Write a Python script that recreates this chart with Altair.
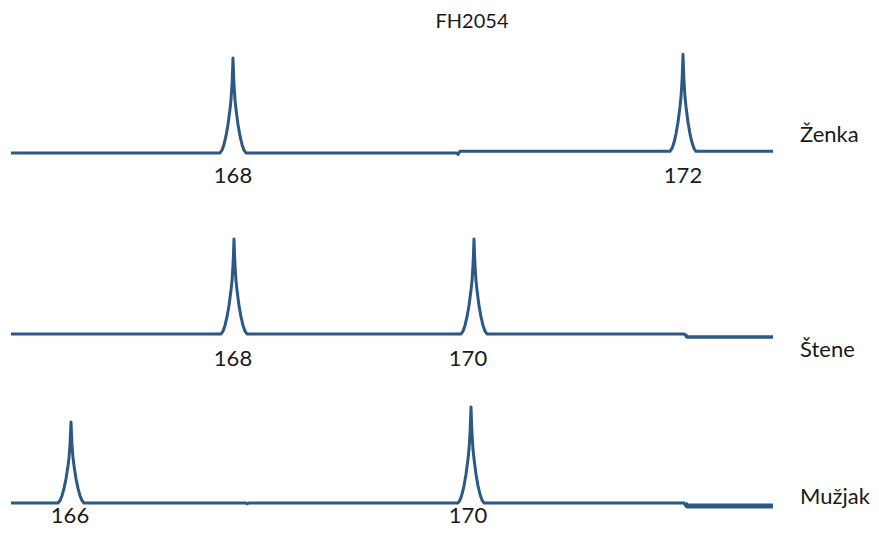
import altair as alt
import numpy as np
import pandas as pd

# ---- data ----
title_text = "FH2054"

lanes = ["Ženka", "Štene", "Mužjak"]
lane_base = [375, 194, 25]          # baseline level of each trace (vertical lane position)
label_drop = [30, 32, 20]           # how far below the trace baseline the allele labels' text baseline sits
name_y = [393, 178, 31]             # vertical position of the lane names
name_x = 792

# baseline anchor points (scan position, signal) per lane
base_x = {
    "Ženka": [3, 449, 450, 452, 765],
    "Štene": [3, 677, 679, 765],
    "Mužjak": [3, 238, 239, 241, 677, 679, 765],
}
base_s = {
    "Ženka": [0, 0, -1.5, 1.7, 1.7],
    "Štene": [0, 0, -3, -3],
    "Mužjak": [0, 0, -1, 0, 0, -3, -3],
}
tail_start = {"Štene": 677, "Mužjak": 677}
tail_width = {"Štene": 3.6, "Mužjak": 4.8}
main_width = 3.0

# peaks
peak_lane = ["Ženka", "Ženka", "Štene", "Štene", "Mužjak", "Mužjak"]
peak_size = ["168", "172", "168", "170", "166", "170"]
peak_x = [225, 675, 226, 466, 63, 463]
peak_h = [95, 97, 95, 95, 81, 96]
label_x = [225, 675, 225, 460, 62, 460]

# peak profile (offset in scan units, fraction of peak height)
prof_off = [-13, -11, -9, -7, -5, -4, -3, -2, -1, -0.5, 0, 0.5, 1, 2, 3, 4, 5, 7, 9, 11, 13]
prof_rel = [0, 0.03, 0.09, 0.18, 0.3, 0.38, 0.46, 0.56, 0.72, 0.85, 1.0, 0.85, 0.72, 0.56, 0.46, 0.38, 0.3, 0.18, 0.09, 0.03, 0]

LINE = "#2c5883"
FONT = "Lato"

# ---- build trace table ----
rows = []
for li, lane in enumerate(lanes):
    bx = np.array(base_x[lane], dtype=float)
    bs = np.array(base_s[lane], dtype=float)
    pts = {}
    lane_peaks = [(peak_x[i], peak_h[i]) for i in range(len(peak_lane)) if peak_lane[i] == lane]
    for x, s in zip(bx, bs):
        if all(abs(x - px) > 13 for px, _ in lane_peaks):
            pts[float(x)] = float(s)
    for px, ph in lane_peaks:
        b = float(np.interp(px, bx, bs))
        for o, r in zip(prof_off, prof_rel):
            pts[float(px + o)] = b + r * ph
    xs = sorted(pts)
    ts = tail_start.get(lane)
    for x in xs:
        y = lane_base[li] + pts[x]
        if ts is None or x <= ts:
            rows.append({"lane": lane, "seg": lane + "-main", "x": x, "y": y, "w": main_width})
        if ts is not None and x >= ts:
            rows.append({"lane": lane, "seg": lane + "-tail", "x": x, "y": y, "w": tail_width[lane]})
traces = pd.DataFrame(rows)

peak_labels = pd.DataFrame({
    "lane": peak_lane,
    "size": peak_size,
    "x": label_x,
    "y": [lane_base[lanes.index(l)] - label_drop[lanes.index(l)] for l in peak_lane],
})
names = pd.DataFrame({"lane": lanes, "x": [name_x] * 3, "y": name_y})
title_df = pd.DataFrame({"t": [title_text], "x": [464], "y": [500]})

xs = alt.Scale(domain=[0, 863], nice=False, zero=False)
ys = alt.Scale(domain=[0, 520], nice=False, zero=False)

lines = alt.Chart(traces).mark_line(color=LINE, strokeJoin="round", strokeCap="butt").encode(
    x=alt.X("x:Q", scale=xs, axis=None),
    y=alt.Y("y:Q", scale=ys, axis=None),
    detail="seg:N",
    order="x:Q",
    strokeWidth=alt.StrokeWidth("w:Q", scale=None, legend=None),
)

plabels = alt.Chart(peak_labels).mark_text(font=FONT, fontSize=22, color="#1a1a1a", baseline="alphabetic", align="center").encode(
    x=alt.X("x:Q", scale=xs, axis=None),
    y=alt.Y("y:Q", scale=ys, axis=None),
    text="size:N",
)

nlabels = alt.Chart(names).mark_text(font=FONT, fontSize=22, color="#1a1a1a", baseline="middle", align="left").encode(
    x=alt.X("x:Q", scale=xs, axis=None),
    y=alt.Y("y:Q", scale=ys, axis=None),
    text="lane:N",
)

title = alt.Chart(title_df).mark_text(font=FONT, fontSize=20, color="#1a1a1a", baseline="alphabetic", align="center").encode(
    x=alt.X("x:Q", scale=xs, axis=None),
    y=alt.Y("y:Q", scale=ys, axis=None),
    text="t:N",
)

chart = alt.layer(lines, plabels, nlabels, title).properties(
    width=863, height=520,
    autosize=alt.AutoSizeParams(type="none"),
    padding=0,
).configure_view(stroke=None)

chart.save("out.html", embed_options={"renderer": "svg", "actions": False})
